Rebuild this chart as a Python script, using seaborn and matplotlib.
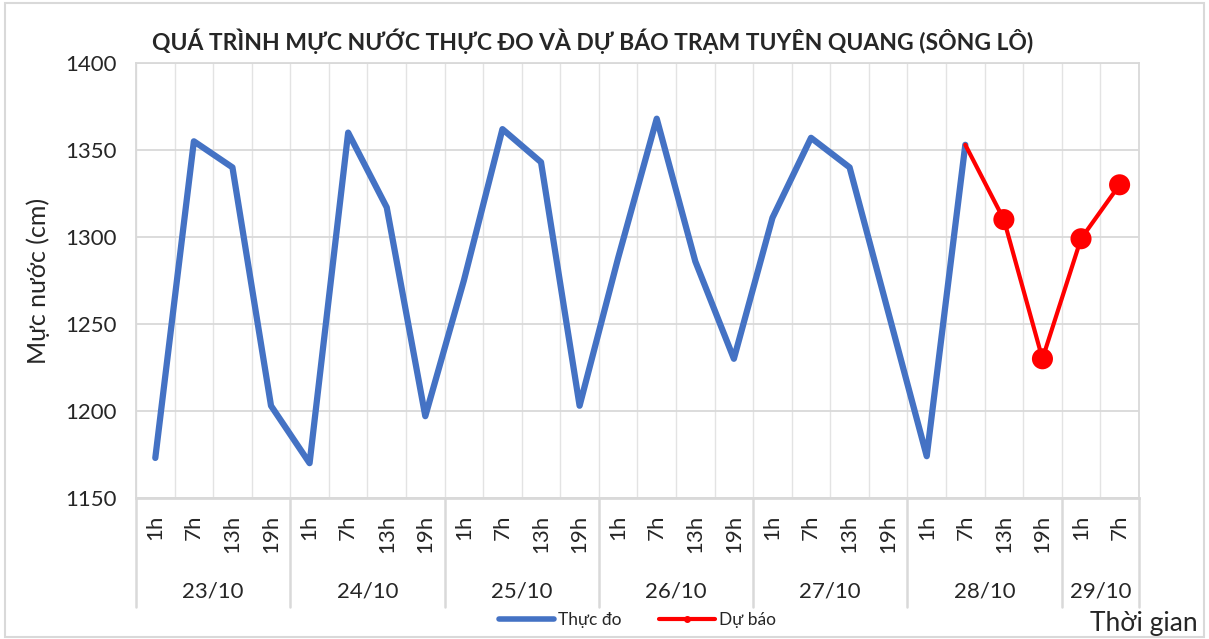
import pandas as pd
import matplotlib.pyplot as plt
import matplotlib.transforms as mtransforms
import seaborn as sns
from matplotlib.lines import Line2D
from matplotlib.patches import Rectangle
from matplotlib.ticker import MultipleLocator

# --- Dữ liệu ---
ngay = ['23/10', '24/10', '25/10', '26/10', '27/10', '28/10', '29/10']
gio = [['1h', '7h', '13h', '19h']] * 6 + [['1h', '7h']]
thuc_do = [1173, 1355, 1340, 1203, 1170, 1360, 1317, 1197, 1275, 1362, 1343, 1203,
           1288, 1368, 1286, 1230, 1311, 1357, 1340, 1257, 1174, 1353]
du_bao = [1353, 1310, 1230, 1299, 1330]
y_ticks = [1150, 1200, 1250, 1300, 1350, 1400]

XANH = '#4472C4'
DO = '#FF0000'
XAM = '#d9d9d9'

nhan_gio = [h for hs in gio for h in hs]
n = len(nhan_gio)

df_td = pd.DataFrame({'vi_tri': range(len(thuc_do)), 'muc_nuoc': thuc_do})
bat_dau = len(thuc_do) - 1
df_db = pd.DataFrame({'vi_tri': range(bat_dau, bat_dau + len(du_bao)), 'muc_nuoc': du_bao})

sns.set_theme(style="white")
plt.rcParams['font.family'] = ['Lato', 'DejaVu Sans']

fig = plt.figure(figsize=(12.09, 6.39), dpi=100)
ax = fig.add_axes([0.1125, 0.2207, 0.8295, 0.6807])

sns.lineplot(data=df_td, x='vi_tri', y='muc_nuoc', color=XANH, lw=4.5, ax=ax,
             solid_joinstyle='round', zorder=3)
sns.lineplot(data=df_db, x='vi_tri', y='muc_nuoc', color=DO, lw=3, ax=ax, zorder=4)
sns.scatterplot(data=df_db.iloc[1:], x='vi_tri', y='muc_nuoc', color=DO, s=230,
                edgecolor='none', ax=ax, zorder=5)

# trục
ax.set_xlim(-0.5, n - 0.5)
ax.set_ylim(y_ticks[0], y_ticks[-1])
ax.set_yticks(y_ticks)
ax.set_xticks(range(n))
ax.set_xticklabels(nhan_gio, rotation=90, fontsize=16)
ax.xaxis.set_minor_locator(MultipleLocator(0.5))
ax.tick_params(axis='x', which='both', length=0, pad=12)
ax.tick_params(axis='y', length=0, pad=14, labelsize=16)
ax.set_xlabel('')
ax.set_ylabel('Mực nước (cm)', fontsize=18, labelpad=11)

ax.grid(False)
ax.grid(True, which='minor', axis='x', color='#e3e3e3', lw=1)
ax.grid(True, which='major', axis='y', color=XAM, lw=1.3)
ax.set_axisbelow(True)
for s in ax.spines.values():
    s.set_color(XAM)
    s.set_linewidth(1.3)
ax.spines['bottom'].set_linewidth(2)

# nhãn ngày và vạch phân nhóm
trans = mtransforms.blended_transform_factory(ax.transData, ax.transAxes)
vi_tri = 0
ax.plot([-0.5, -0.5], [0, -0.25], transform=trans, clip_on=False, color=XAM, lw=1.8)
for d, hs in zip(ngay, gio):
    giua = vi_tri + (len(hs) - 1) / 2
    ax.text(giua, -0.216, d, transform=trans, ha='center', va='center', fontsize=16)
    vi_tri += len(hs)
    ax.plot([vi_tri - 0.5] * 2, [0, -0.25], transform=trans, clip_on=False,
            color=XAM, lw=1.8)

fig.text(0.49, 0.936, 'QUÁ TRÌNH MỰC NƯỚC THỰC ĐO VÀ DỰ BÁO TRẠM TUYÊN QUANG (SÔNG LÔ)',
         ha='center', va='center', fontsize=16.5, fontweight='bold')
fig.text(0.946, 0.025, 'Thời gian', ha='center', va='center', fontsize=19)

handles = [Line2D([], [], color=XANH, lw=4),
           Line2D([], [], color=DO, lw=3, marker='o', markersize=4)]
fig.legend(handles, ['Thực đo', 'Dự báo'], loc='center', bbox_to_anchor=(0.527, 0.03),
           ncol=2, frameon=False, fontsize=12.5, handlelength=3.2, handletextpad=0.2,
           columnspacing=2.2)

fig.patches.append(Rectangle((0.004, 0.003), 0.992, 0.993, transform=fig.transFigure,
                             fill=False, edgecolor=XAM, lw=1.5))

fig.savefig('out.png', dpi=100)
